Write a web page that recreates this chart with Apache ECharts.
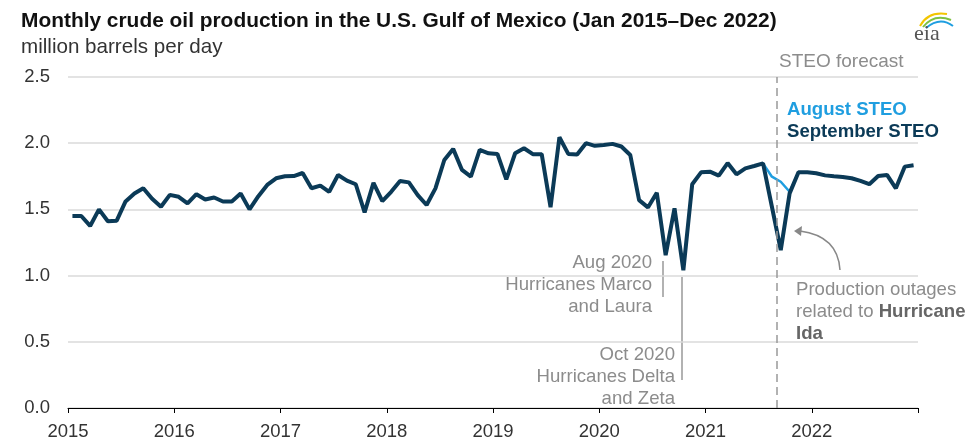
<!DOCTYPE html>
<html>
<head>
<meta charset="utf-8">
<script src="https://cdn.jsdelivr.net/npm/echarts@6/dist/echarts.min.js"></script>
<style>
  html, body { margin: 0; padding: 0; background: #fff; }
  #chart { width: 973px; height: 443px; }
</style>
</head>
<body>
<div id="chart"></div>
<script>
// tick labels (one per January)
var years = ["2015", "2016", "2017", "2018", "2019", "2020", "2021", "2022"];

// September STEO, Jan 2015 - Dec 2022, million b/d
var septemberSteo = [
  1.45, 1.45, 1.375, 1.50, 1.41, 1.415, 1.56, 1.62, 1.66, 1.58, 1.52, 1.61,
  1.595, 1.545, 1.615, 1.575, 1.59, 1.56, 1.56, 1.62, 1.50, 1.60, 1.685, 1.735,
  1.75, 1.752, 1.775, 1.66, 1.68, 1.633, 1.76, 1.717, 1.69, 1.478, 1.70, 1.563,
  1.633, 1.714, 1.704, 1.608, 1.533, 1.659, 1.873, 1.957, 1.798, 1.747, 1.949, 1.924,
  1.919, 1.727, 1.924, 1.962, 1.917, 1.917, 1.517, 2.045, 1.919, 1.914, 2.0, 1.98,
  1.987, 1.995, 1.975, 1.911, 1.57, 1.515, 1.626, 1.154, 1.508, 1.04, 1.69, 1.78,
  1.785, 1.755, 1.85, 1.765, 1.81, 1.828, 1.848, 1.52, 1.192, 1.621, 1.78, 1.78,
  1.773, 1.757, 1.75, 1.745, 1.735, 1.715, 1.69, 1.752, 1.76, 1.659, 1.823, 1.833
];

// August STEO, only where it differs (Jun 2021 - Nov 2021)
var augustStart = 77;
var augustSteo = [1.828, 1.848, 1.747, 1.709, 1.633, 1.78];

var forecastStart = 80; // Sep 2021

var dark = "#0b3a57";
var blue = "#1f9ee0";
var grey = "#8c8c8c";
var font = "Liberation Sans, Arial, sans-serif";
var noteFont = "18.6px " + font;

var chart = echarts.init(document.getElementById("chart"));

chart.setOption({
  animation: false,
  textStyle: { fontFamily: font },
  title: {
    left: 21, top: 9, itemGap: 2, padding: 0,
    text: "Monthly crude oil production in the U.S. Gulf of Mexico (Jan 2015\u2013Dec 2022)",
    textStyle: { fontSize: 20.9, fontWeight: "bold", color: "#111", lineHeight: 24 },
    subtext: "million barrels per day",
    subtextStyle: { fontSize: 20.6, color: "#333", lineHeight: 24 }
  },
  grid: { left: 68, right: 55, top: 77, bottom: 35, containLabel: false },
  xAxis: {
    type: "value", min: 0, max: 96, interval: 12,
    axisLine: { lineStyle: { color: "#000", width: 1 } },
    axisTick: { show: true, length: 5, lineStyle: { color: "#000" } },
    splitLine: { show: false },
    axisLabel: {
      margin: 14, fontSize: 18.5, color: "#333",
      formatter: function (v) { return years[v / 12] || ""; }
    }
  },
  yAxis: {
    type: "value", min: 0, max: 2.5, interval: 0.5,
    axisLine: { show: false }, axisTick: { show: false },
    splitLine: { lineStyle: { color: "#dadada", width: 1.5 } },
    axisLabel: {
      margin: 18, fontSize: 18.5, color: "#333",
      formatter: function (v) { return v.toFixed(1); }
    }
  },
  series: [
    {
      name: "August STEO", type: "line", symbol: "none", z: 2,
      lineStyle: { color: blue, width: 2.5 },
      data: augustSteo.map(function (v, i) { return [augustStart + i + 0.5, v]; })
    },
    {
      name: "September STEO", type: "line", symbol: "none", z: 3,
      lineStyle: { color: dark, width: 4 },
      data: septemberSteo.map(function (v, i) { return [i + 0.5, v]; }),
      markLine: {
        silent: true, symbol: "none", label: { show: false },
        lineStyle: { color: "#999", width: 1.5, type: [8, 5] },
        data: [{ xAxis: forecastStart }]
      }
    }
  ],
  graphic: [
    { type: "text", left: 779, top: 52, style: { text: "STEO forecast", font: "19px " + font, fill: grey } },
    { type: "text", left: 787, top: 100, style: { text: "August STEO", font: "bold 18.6px " + font, fill: blue } },
    { type: "text", left: 787, top: 122, style: { text: "September STEO", font: "bold 18.6px " + font, fill: dark } },

    // Aug 2020 note
    { type: "text", x: 652, y: 252, style: { text: "Aug 2020\nHurricanes Marco\nand Laura", font: noteFont, fill: grey, align: "right", lineHeight: 22 } },
    { type: "line", shape: { x1: 663, y1: 261, x2: 663, y2: 297 }, style: { stroke: "#999", lineWidth: 1.5 } },
    // Oct 2020 note
    { type: "text", x: 675, y: 344, style: { text: "Oct 2020\nHurricanes Delta\nand Zeta", font: noteFont, fill: grey, align: "right", lineHeight: 22 } },
    { type: "line", shape: { x1: 682, y1: 277, x2: 682, y2: 380 }, style: { stroke: "#999", lineWidth: 1.5 } },

    // Ida note
    {
      type: "text", x: 796, y: 279,
      style: {
        text: "{a|Production outages}\n{a|related to }{b|Hurricane}\n{b|Ida}",
        rich: {
          a: { font: noteFont, fill: grey, lineHeight: 22 },
          b: { font: "bold " + noteFont, fill: "#666", lineHeight: 22 }
        }
      }
    },
    { type: "bezierCurve", shape: { x1: 840, y1: 270, cpx1: 838, cpy1: 236, x2: 800, y2: 231 }, style: { stroke: "#888", lineWidth: 1.5, fill: null } },
    { type: "polygon", shape: { points: [[794, 231], [802, 226], [801, 236]] }, style: { fill: "#888" } },

    // eia logo
    { type: "bezierCurve", shape: { x1: 920, y1: 26, cpx1: 928, cpy1: 11, x2: 947, y2: 14 }, style: { stroke: "#f2c500", lineWidth: 2, fill: null } },
    { type: "bezierCurve", shape: { x1: 923, y1: 27, cpx1: 934, cpy1: 13, x2: 951, y2: 20 }, style: { stroke: "#7dc142", lineWidth: 2, fill: null } },
    { type: "bezierCurve", shape: { x1: 926, y1: 28, cpx1: 940, cpy1: 16, x2: 953, y2: 26 }, style: { stroke: blue, lineWidth: 2, fill: null } },
    { type: "text", left: 914, top: 23, style: { text: "eia", font: "22px Liberation Serif, serif", fill: "#555" } }
  ]
});
</script>
</body>
</html>
